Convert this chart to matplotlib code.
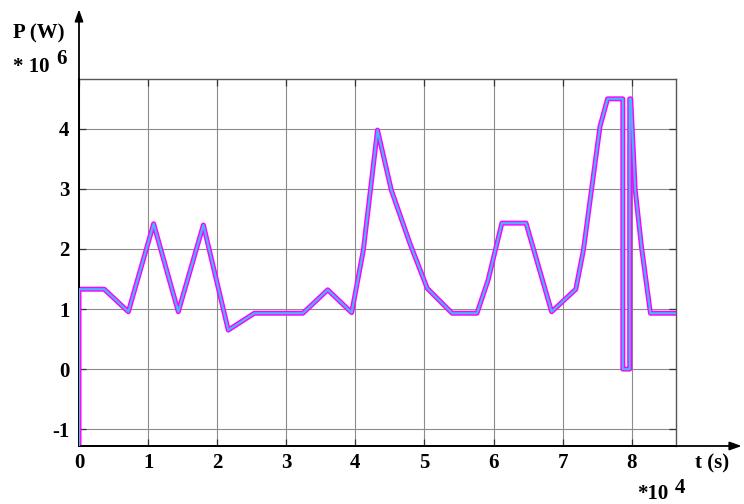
import matplotlib
matplotlib.use("Agg")
import matplotlib.pyplot as plt

# Power profile: time in units of 1e4 s, power in units of 1e6 W
t = [0.0, 0.0, 0.366, 0.714, 1.08, 1.437, 1.80, 2.16, 2.537, 3.24, 3.60, 3.946,
     4.115, 4.32, 4.52, 4.79, 5.04, 5.40, 5.76, 5.92, 6.12, 6.47, 6.84, 7.19,
     7.30, 7.54, 7.65, 7.87, 7.87, 7.97, 7.97, 7.985, 8.05, 8.14, 8.27, 8.64]
p = [-1.28, 1.33, 1.33, 0.955, 2.42, 0.955, 2.40, 0.65, 0.93, 0.93, 1.32, 0.94,
     1.98, 3.98, 2.98, 2.09, 1.345, 0.93, 0.93, 1.48, 2.43, 2.43, 0.955, 1.33,
     1.98, 4.04, 4.50, 4.50, 0.0, 0.0, 4.50, 4.50, 2.98, 2.04, 0.93, 0.93]

x_ticks = [0, 1, 2, 3, 4, 5, 6, 7, 8]
y_ticks = [-1, 0, 1, 2, 3, 4]

serif = ["Liberation Serif", "DejaVu Serif"]

fig = plt.figure(figsize=(7.44, 5.04), dpi=100)
ax = fig.add_axes([79 / 744, 1 - 446 / 504, 597 / 744, 367 / 504])

ax.plot(t, p, color="#ff00ff", lw=3.6, solid_joinstyle="round", zorder=3)
ax.plot(t, p, color="#6f9cff", lw=1.6, solid_joinstyle="round", zorder=4)
ax.plot(t, p, color="#00e0ff", lw=0.5, solid_joinstyle="round", zorder=5)

ax.set_xlim(0, 8.64)
ax.set_ylim(-1.28, 4.83)
ax.set_xticks(x_ticks)
ax.set_yticks(y_ticks)
ax.set_xticklabels([str(v) for v in x_ticks], fontfamily=serif,
                   fontweight="bold", fontsize=15)
ax.set_yticklabels([str(v) for v in y_ticks], fontfamily=serif,
                   fontweight="bold", fontsize=15)
ax.tick_params(axis="both", direction="in", length=5, width=0.9,
               color="#333333", top=True, right=True)
ax.tick_params(axis="x", pad=5)
ax.tick_params(axis="y", pad=7)
ax.grid(True, color="#8c8c8c", lw=0.8)
ax.set_axisbelow(True)

for side in ("top", "right"):
    ax.spines[side].set_color("#555555")
    ax.spines[side].set_linewidth(1.0)
for side in ("left", "bottom"):
    ax.spines[side].set_color("black")
    ax.spines[side].set_linewidth(1.3)

# Arrowed coordinate axes
ax.annotate("", xy=(1.11, 0), xytext=(0, 0), xycoords="axes fraction",
            arrowprops=dict(arrowstyle="-|>,head_length=0.7,head_width=0.25",
                            lw=1.3, color="black", shrinkA=0, shrinkB=0),
            annotation_clip=False)
ax.annotate("", xy=(0, 1.19), xytext=(0, 0), xycoords="axes fraction",
            arrowprops=dict(arrowstyle="-|>,head_length=0.7,head_width=0.25",
                            lw=1.3, color="black", shrinkA=0, shrinkB=0),
            annotation_clip=False)

txt = dict(fontfamily=serif, fontweight="bold", fontsize=15, color="black")
fig.text(13 / 744, 1 - 33 / 504, "P (W)", ha="left", va="center", **txt)
fig.text(13 / 744, 1 - 67 / 504, "* 10", ha="left", va="center", **txt)
fig.text(56 / 744, 1 - 59 / 504, "6", ha="left", va="center", **txt)
fig.text(695 / 744, 1 - 463 / 504, "t (s)", ha="left", va="center", **txt)
fig.text(637 / 744, 1 - 494 / 504, "*10", ha="left", va="center", **txt)
fig.text(675 / 744, 1 - 488 / 504, "4", ha="left", va="center", **txt)

fig.savefig("out.png", dpi=100)
